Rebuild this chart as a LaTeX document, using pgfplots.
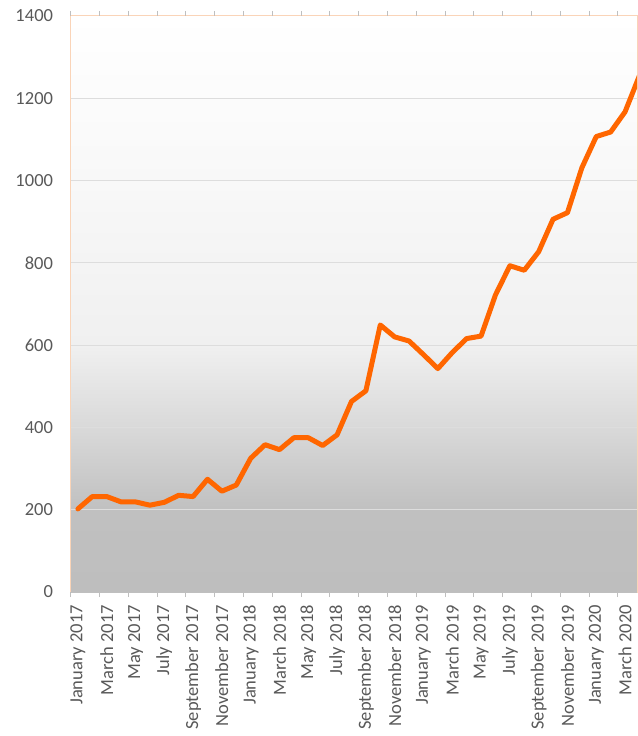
\documentclass[border=0pt]{standalone}
\usepackage{pgfplots}
\pgfplotsset{compat=1.18}
\usepackage{fontspec}
\setmainfont{Carlito}
\definecolor{lineor}{RGB}{255,102,0}
\definecolor{labgray}{RGB}{89,89,89}
\definecolor{gridc}{RGB}{221,221,221}
\definecolor{axgray}{RGB}{191,191,191}
\definecolor{peach}{RGB}{250,212,184}
\definecolor{s0}{RGB}{190,190,190}
\definecolor{s1}{RGB}{192,192,192}
\definecolor{s2}{RGB}{217,217,217}
\definecolor{s3}{RGB}{240,240,240}
\definecolor{s4}{RGB}{248,248,248}
\pgfdeclareverticalshading{bgshade}{100bp}{color(0bp)=(s0); color(25bp)=(s0); color(32.1bp)=(s1); color(39.3bp)=(s2); color(46.4bp)=(s3); color(60.7bp)=(s4); color(75bp)=(white); color(100bp)=(white)}
\begin{document}
\begin{tikzpicture}
\begin{axis}[
  name=ax,
  scale only axis,
  width=566.3pt, height=576pt,
  xmin=-0.5, xmax=38.83,
  ymin=0, ymax=1400,
  ytick={0,200,...,1400},
  xtick={0,2,...,38},
  xticklabels={January 2017,March 2017,May 2017,July 2017,September 2017,November 2017,January 2018,March 2018,May 2018,July 2018,September 2018,November 2018,January 2019,March 2019,May 2019,July 2019,September 2019,November 2019,January 2020,March 2020},
  major tick length=0pt,
  extra x ticks={-0.5,1.5,...,37.5},
  extra x tick labels={},
  extra x tick style={major tick length=5pt, tick align=outside, tick style={draw=axgray, line width=1pt}},
  ymajorgrids,
  grid style={draw=gridc, line width=1pt},
  axis line style={draw=peach, line width=1pt},
  axis background/.style={shade, shading=bgshade},
  ticklabel style={font=\fontsize{18.5}{20}\selectfont, text=labgray, inner sep=0pt},
  xticklabel style={rotate=90, anchor=east},
  yticklabel style={anchor=east},
  xticklabel shift=13pt,
  yticklabel shift=17.5pt,
  /pgf/number format/assume math mode=true,
  /pgf/number format/1000 sep={},
  clip=true,
]
\draw[axgray, line width=1pt] (rel axis cs:0,0) -- (rel axis cs:1,0);
\addplot[lineor, line width=5pt, line join=round, line cap=round] coordinates {
(0,202) (1,232) (2,232) (3,219) (4,219) (5,211) (6,218) (7,235) (8,232) (9,274)
(10,245) (11,260) (12,325) (13,358) (14,346) (15,375) (16,375) (17,356) (18,382) (19,463)
(20,489) (21,649) (22,620) (23,610) (24,577) (25,543) (26,582) (27,616) (28,622) (29,722)
(30,793) (31,782) (32,827) (33,906) (34,922) (35,1031) (36,1107) (37,1118) (38,1167) (39,1255)
};
\end{axis}
\pgfresetboundingbox
\path[use as bounding box] ([xshift=-70.7pt,yshift=-144pt]ax.south west) rectangle ([yshift=16pt]ax.north east);
\end{tikzpicture}
\end{document}
